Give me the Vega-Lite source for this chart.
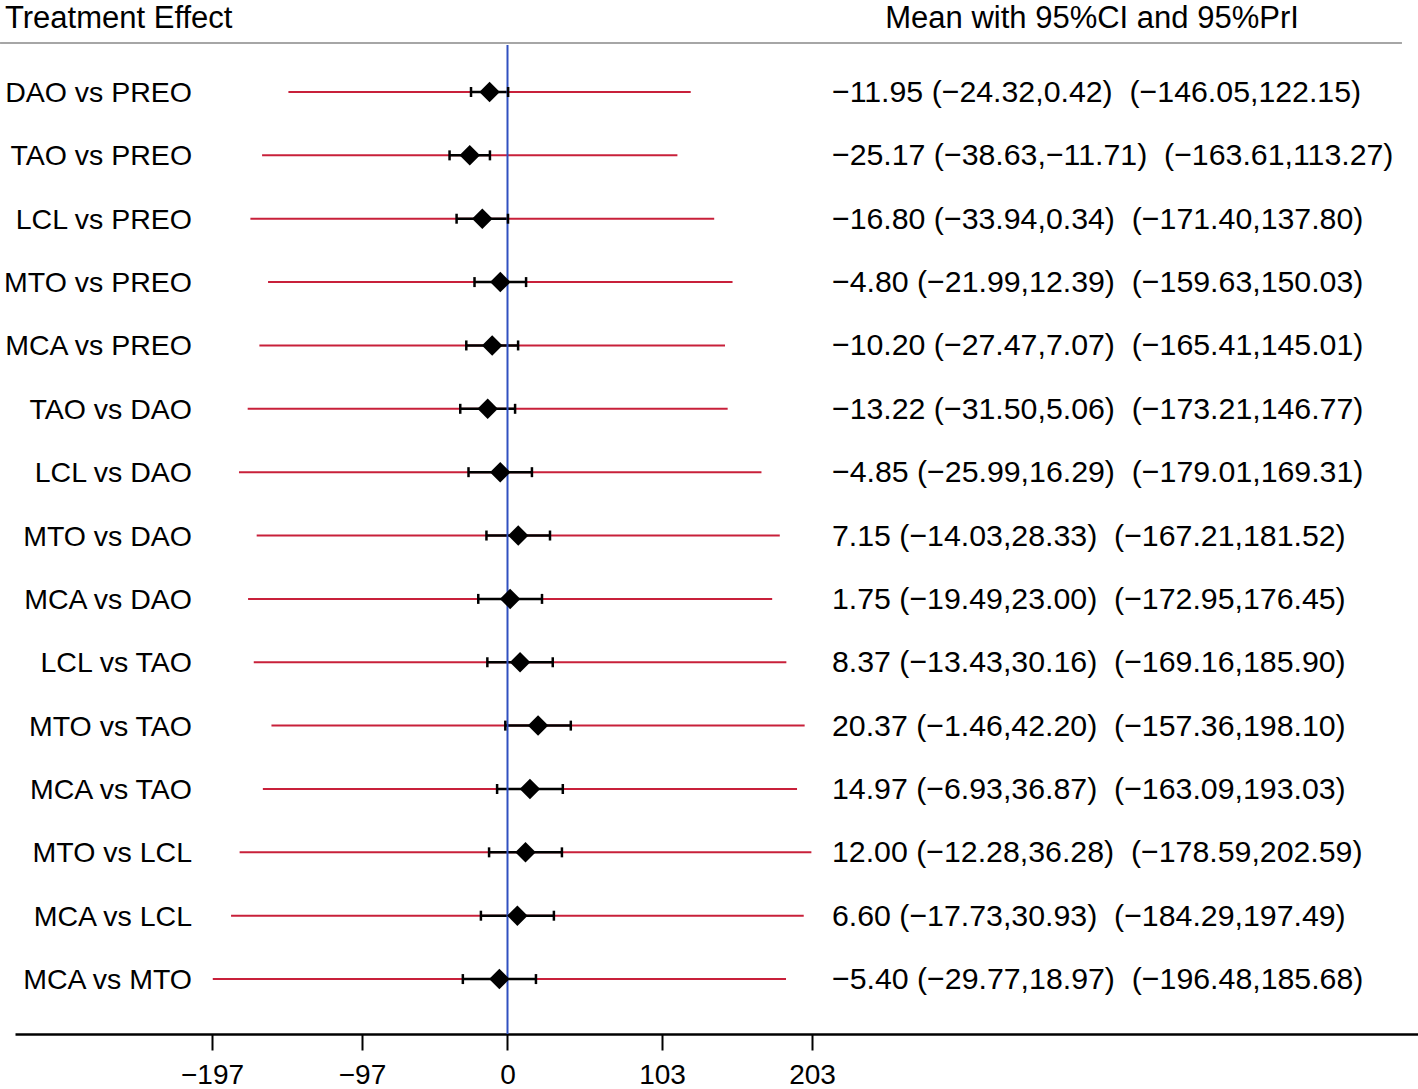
{
  "$schema": "https://vega.github.io/schema/vega-lite/v6.json",
  "width": 1403,
  "height": 1034,
  "autosize": {"type": "none"},
  "padding": {"left": 15, "top": 0, "right": 0, "bottom": 55},
  "background": "white",
  "config": {
    "view": {"stroke": null},
    "font": "Liberation Sans",
    "axisX": {"grid": false, "domainColor": "black", "domainWidth": 2.5, "tickColor": "black", "tickWidth": 2,
              "tickSize": 16, "labelFontSize": 28, "labelColor": "black", "labelPadding": 11,
              "labelFont": "Liberation Sans", "labelFlush": false, "labelOverlap": false}
  },
  "data": {"values": [
    {"row": 1, "label": "DAO vs PREO", "mean": -11.95, "lo": -24.32, "hi": 0.42, "plo": -146.05, "phi": 122.15, "txt": "−11.95 (−24.32,0.42) \u00a0(−146.05,122.15)"},
    {"row": 2, "label": "TAO vs PREO", "mean": -25.17, "lo": -38.63, "hi": -11.71, "plo": -163.61, "phi": 113.27, "txt": "−25.17 (−38.63,−11.71) \u00a0(−163.61,113.27)"},
    {"row": 3, "label": "LCL vs PREO", "mean": -16.80, "lo": -33.94, "hi": 0.34, "plo": -171.40, "phi": 137.80, "txt": "−16.80 (−33.94,0.34) \u00a0(−171.40,137.80)"},
    {"row": 4, "label": "MTO vs PREO", "mean": -4.80, "lo": -21.99, "hi": 12.39, "plo": -159.63, "phi": 150.03, "txt": "−4.80 (−21.99,12.39) \u00a0(−159.63,150.03)"},
    {"row": 5, "label": "MCA vs PREO", "mean": -10.20, "lo": -27.47, "hi": 7.07, "plo": -165.41, "phi": 145.01, "txt": "−10.20 (−27.47,7.07) \u00a0(−165.41,145.01)"},
    {"row": 6, "label": "TAO vs DAO", "mean": -13.22, "lo": -31.50, "hi": 5.06, "plo": -173.21, "phi": 146.77, "txt": "−13.22 (−31.50,5.06) \u00a0(−173.21,146.77)"},
    {"row": 7, "label": "LCL vs DAO", "mean": -4.85, "lo": -25.99, "hi": 16.29, "plo": -179.01, "phi": 169.31, "txt": "−4.85 (−25.99,16.29) \u00a0(−179.01,169.31)"},
    {"row": 8, "label": "MTO vs DAO", "mean": 7.15, "lo": -14.03, "hi": 28.33, "plo": -167.21, "phi": 181.52, "txt": "7.15 (−14.03,28.33) \u00a0(−167.21,181.52)"},
    {"row": 9, "label": "MCA vs DAO", "mean": 1.75, "lo": -19.49, "hi": 23.00, "plo": -172.95, "phi": 176.45, "txt": "1.75 (−19.49,23.00) \u00a0(−172.95,176.45)"},
    {"row": 10, "label": "LCL vs TAO", "mean": 8.37, "lo": -13.43, "hi": 30.16, "plo": -169.16, "phi": 185.90, "txt": "8.37 (−13.43,30.16) \u00a0(−169.16,185.90)"},
    {"row": 11, "label": "MTO vs TAO", "mean": 20.37, "lo": -1.46, "hi": 42.20, "plo": -157.36, "phi": 198.10, "txt": "20.37 (−1.46,42.20) \u00a0(−157.36,198.10)"},
    {"row": 12, "label": "MCA vs TAO", "mean": 14.97, "lo": -6.93, "hi": 36.87, "plo": -163.09, "phi": 193.03, "txt": "14.97 (−6.93,36.87) \u00a0(−163.09,193.03)"},
    {"row": 13, "label": "MTO vs LCL", "mean": 12.00, "lo": -12.28, "hi": 36.28, "plo": -178.59, "phi": 202.59, "txt": "12.00 (−12.28,36.28) \u00a0(−178.59,202.59)"},
    {"row": 14, "label": "MCA vs LCL", "mean": 6.60, "lo": -17.73, "hi": 30.93, "plo": -184.29, "phi": 197.49, "txt": "6.60 (−17.73,30.93) \u00a0(−184.29,197.49)"},
    {"row": 15, "label": "MCA vs MTO", "mean": -5.40, "lo": -29.77, "hi": 18.97, "plo": -196.48, "phi": 185.68, "txt": "−5.40 (−29.77,18.97) \u00a0(−196.48,185.68)"}
  ]},
  "layer": [
    {
      "mark": {"type": "rule", "color": "#c8203a", "strokeWidth": 2},
      "encoding": {
        "x": {"field": "plo", "type": "quantitative", "title": null,
              "scale": {"domain": [-328.33, 607], "nice": false, "zero": false},
              "axis": {"title": null, "values": [-197, -97, 0, 103, 203], "format": "d"}},
        "x2": {"field": "phi"},
        "y": {"field": "row", "type": "quantitative",
              "scale": {"domain": [-0.452, 15.867], "nice": false, "zero": false, "reverse": true},
              "axis": null}
      }
    },
    {
      "mark": {"type": "rule", "color": "black", "strokeWidth": 2.5},
      "encoding": {
        "x": {"field": "lo", "type": "quantitative", "title": null},
        "x2": {"field": "hi"},
        "y": {"field": "row", "type": "quantitative", "axis": null}
      }
    },
    {
      "data": {"values": [{"ref": 0}]},
      "mark": {"type": "rule", "color": "#3050c0", "strokeWidth": 2},
      "encoding": {
        "x": {"field": "ref", "type": "quantitative", "title": null},
        "y": {"datum": 0.258, "type": "quantitative", "axis": null},
        "y2": {"datum": 15.867}
      }
    },
    {
      "data": {"values": [{"a": 0}]},
      "mark": {"type": "rule", "color": "#888888", "strokeWidth": 1.5, "clip": false},
      "encoding": {
        "x": {"datum": -338.3, "type": "quantitative", "title": null},
        "x2": {"datum": 596.3},
        "y": {"datum": 0.2266, "type": "quantitative", "axis": null}
      }
    },
    {
      "mark": {"type": "point", "shape": "M0,-1L0,1", "size": 100, "stroke": "black", "strokeWidth": 2.5, "filled": false, "opacity": 1},
      "encoding": {
        "x": {"field": "lo", "type": "quantitative", "title": null},
        "y": {"field": "row", "type": "quantitative", "axis": null}
      }
    },
    {
      "mark": {"type": "point", "shape": "M0,-1L0,1", "size": 100, "stroke": "black", "strokeWidth": 2.5, "filled": false, "opacity": 1},
      "encoding": {
        "x": {"field": "hi", "type": "quantitative", "title": null},
        "y": {"field": "row", "type": "quantitative", "axis": null}
      }
    },
    {
      "mark": {"type": "point", "shape": "diamond", "size": 420, "filled": true, "color": "black", "opacity": 1},
      "encoding": {
        "x": {"field": "mean", "type": "quantitative", "title": null},
        "y": {"field": "row", "type": "quantitative", "axis": null}
      }
    },
    {
      "mark": {"type": "text", "align": "right", "baseline": "middle", "fontSize": 28.5, "color": "black", "dy": 1},
      "encoding": {
        "x": {"datum": -210.3, "type": "quantitative", "title": null},
        "y": {"field": "row", "type": "quantitative", "axis": null},
        "text": {"field": "label"}
      }
    },
    {
      "mark": {"type": "text", "align": "left", "baseline": "middle", "fontSize": 30.3, "color": "black", "dy": 1},
      "encoding": {
        "x": {"datum": 216.3, "type": "quantitative", "title": null},
        "y": {"field": "row", "type": "quantitative", "axis": null},
        "text": {"field": "txt"}
      }
    },
    {
      "data": {"values": [{"h": "Treatment Effect"}]},
      "mark": {"type": "text", "align": "left", "baseline": "alphabetic", "fontSize": 31, "color": "black"},
      "encoding": {
        "x": {"datum": -335, "type": "quantitative", "title": null},
        "y": {"datum": -0.01, "type": "quantitative", "axis": null},
        "text": {"field": "h"}
      }
    },
    {
      "data": {"values": [{"h": "Mean with 95%CI and 95%PrI"}]},
      "mark": {"type": "text", "align": "center", "baseline": "alphabetic", "fontSize": 31, "color": "black"},
      "encoding": {
        "x": {"datum": 389.7, "type": "quantitative", "title": null},
        "y": {"datum": -0.01, "type": "quantitative", "axis": null},
        "text": {"field": "h"}
      }
    }
  ]
}
